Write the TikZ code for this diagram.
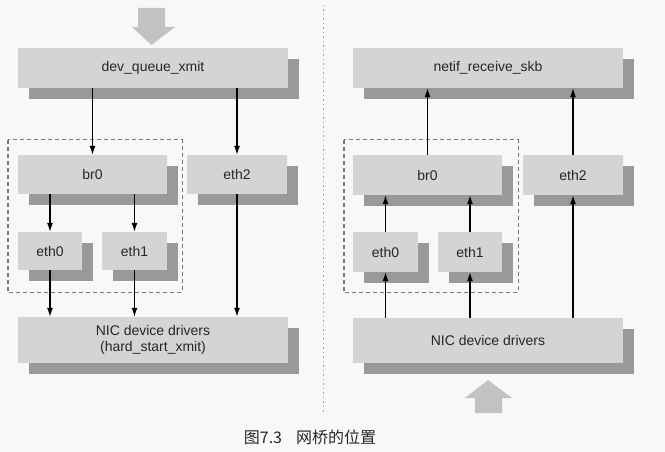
\documentclass[tikz,border=0pt]{standalone}
\usepackage{fontspec}
\setmainfont{Liberation Sans}
\newfontfamily\cjk{Noto Sans CJK SC}
\usepackage{tikz}
\usetikzlibrary{arrows.meta,positioning,calc,shadows}
\definecolor{pagebg}{HTML}{F8F8F8}
\definecolor{boxgray}{HTML}{D4D4D4}
\definecolor{shadegray}{HTML}{999999}
\definecolor{bigarrowgray}{HTML}{C2C2C2}
\definecolor{labelgray}{HTML}{262626}
\definecolor{dashgray}{HTML}{7A7A7A}

\begin{document}
\begin{tikzpicture}[
  x=1pt,y=-1pt,
  layer/.style={rectangle,fill=boxgray,minimum width=#1,minimum height=40pt,inner sep=0pt,
    font=\fontsize{14}{16}\selectfont,text=labelgray,align=center,
    drop shadow={shadow xshift=11pt,shadow yshift=-11pt,fill=shadegray,opacity=1}},
  flow/.style={draw=black,line width=1.2pt,-{Latex[length=9pt,width=6pt]}},
  bridgebox/.style={draw=dashgray,line width=1.4pt,dash pattern=on 4pt off 3pt},
  bigarrow/.style={fill=bigarrowgray},
]
  \fill[pagebg] (0,0) rectangle (665,452);
  \useasboundingbox (0,0) rectangle (665,452);

  % transmit path
  \fill[bigarrow] (138,8) -- (165,8) -- (165,27) -- (175,27) -- (151.5,45) -- (132,27) -- (138,27) -- cycle;
  \node[layer=270pt] (dqx) at (153,68) {dev\_queue\_xmit};
  \node[layer=149pt,minimum height=39pt] (brL) at (92.5,174.5) {br0};
  \node[layer=100pt,minimum height=39pt] (ethtwoL) at (237,174.5) {eth2};
  \node[layer=64pt,minimum height=38pt] (ethzeroL) at (50,251) {eth0};
  \node[layer=65pt,minimum height=38pt] (ethoneL) at (134.5,251) {eth1};
  \node[layer=270pt,minimum height=46pt] (nicL) at (153,340) {NIC device drivers\\(hard\_start\_xmit)};
  \draw[bridgebox] ($(brL.north west)+(-10,-15)$) rectangle ($(ethoneL.south east)+(15,22)$);
  \draw[flow] (dqx.south -| brL) -- (brL.north);
  \draw[flow] (dqx.south -| ethtwoL) -- (ethtwoL.north);
  \draw[flow] (brL.south -| ethzeroL) -- (ethzeroL.north);
  \draw[flow] (brL.south -| ethoneL) -- (ethoneL.north);
  \draw[flow] (ethzeroL.south) -- (nicL.north -| ethzeroL);
  \draw[flow] (ethoneL.south) -- (nicL.north -| ethoneL);
  \draw[flow] (ethtwoL.south) -- (nicL.north -| ethtwoL);

  \draw[dashgray!70,line width=1pt,dash pattern=on 1.5pt off 3pt] (323,5) -- (323,412);

  % receive path
  \node[layer=270pt] (nrs) at (488,68) {netif\_receive\_skb};
  \node[layer=149pt] (brR) at (427.5,175) {br0};
  \node[layer=100pt] (ethtwoR) at (573,175) {eth2};
  \node[layer=65pt] (ethzeroR) at (385.5,252) {eth0};
  \node[layer=64pt] (ethoneR) at (470,252) {eth1};
  \node[layer=270pt,minimum height=45pt] (nicR) at (488,340.5) {NIC device drivers};
  \draw[bridgebox] ($(brR.north west)+(-9,-15)$) rectangle ($(ethoneR.south east)+(16,20)$);
  \draw[flow] (nicR.north -| ethzeroR) -- (ethzeroR.south);
  \draw[flow] (nicR.north -| ethoneR) -- (ethoneR.south);
  \draw[flow] (nicR.north -| ethtwoR) -- (ethtwoR.south);
  \draw[flow] (ethzeroR.north) -- (brR.south -| ethzeroR);
  \draw[flow] (ethoneR.north) -- (brR.south -| ethoneR);
  \draw[flow] (brR.north) -- (nrs.south -| brR);
  \draw[flow] (ethtwoR.north) -- (nrs.south -| ethtwoR);
  \fill[bigarrow] (475,413) -- (502,413) -- (502,398) -- (512,398) -- (488,380) -- (465,398) -- (475,398) -- cycle;

  \node[font=\cjk\fontsize{16}{18}\selectfont,text=labelgray] (caption) at (310,437) {图7.3\hspace{14pt}网桥的位置};
\end{tikzpicture}
\end{document}
